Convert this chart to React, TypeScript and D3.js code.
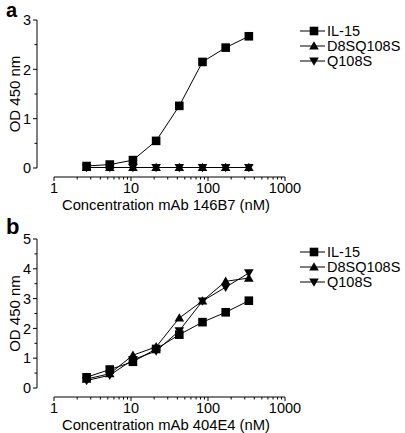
import React from "react";
import * as d3 from "d3";

const conc = [2.65, 5.3, 10.6, 21.2, 42.4, 84.8, 169.6, 339.2];
const seriesNames = ["IL-15", "D8SQ108S", "Q108S"];
const aIL15 = [0.04, 0.07, 0.16, 0.55, 1.26, 2.15, 2.44, 2.67];
const aD8SQ108S = [0.01, 0.01, 0.01, 0.01, 0.01, 0.01, 0.01, 0.01];
const aQ108S = [0.01, 0.01, 0.01, 0.01, 0.01, 0.01, 0.01, 0.01];
const bIL15 = [0.36, 0.62, 0.88, 1.31, 1.79, 2.21, 2.54, 2.93];
const bD8SQ108S = [0.3, 0.48, 1.1, 1.38, 2.35, 2.92, 3.58, 3.69];
const bQ108S = [0.25, 0.43, 0.95, 1.24, 1.92, 2.92, 3.38, 3.86];
const xTicks = [1, 10, 100, 1000];
const aYTicks = [0, 1, 2, 3];
const bYTicks = [0, 1, 2, 3, 4, 5];

const FONT = "'Liberation Sans', Arial, Helvetica, sans-serif";

function Marker({ kind, x, y }: { kind: number; x: number; y: number }) {
  if (kind === 0) return <rect x={x - 4.3} y={y - 4.3} width={8.6} height={8.6} fill="#000" />;
  const s = 4.8;
  if (kind === 1)
    return <path d={`M${x},${y - s}L${x + s},${y + s * 0.75}L${x - s},${y + s * 0.75}Z`} fill="#000" />;
  return <path d={`M${x},${y + s}L${x + s},${y - s * 0.75}L${x - s},${y - s * 0.75}Z`} fill="#000" />;
}

function Panel({
  letter, letterY, letterSize, top, bottom, ymax, yTicks, series, title, legendY,
}: {
  letter: string; letterY: number; letterSize: number; top: number; bottom: number; ymax: number;
  yTicks: number[]; series: number[][]; title: string; legendY: number;
}) {
  const x = d3.scaleLog().domain([1, 1000]).range([54, 285]);
  const y = d3.scaleLinear().domain([0, ymax]).range([bottom, top]);
  const axisY = bottom + 9;
  const yAxisX = 37;
  const minorY: number[] = [];
  for (let v = 0.5; v < ymax; v += 1) minorY.push(v);
  const minorX: number[] = [];
  for (const d of [1, 10, 100]) for (let k = 2; k <= 9; k++) minorX.push(d * k);
  const line = d3.line<number>().x((_, i) => x(conc[i])).y((v) => y(v));
  const order = [2, 1, 0];
  return (
    <g>
      <text x={6} y={letterY} fontFamily={FONT} fontWeight="bold" fontSize={letterSize}>{letter}</text>
      {/* y axis */}
      <line x1={yAxisX} x2={yAxisX} y1={top} y2={bottom} stroke="#000" strokeWidth={1} />
      {yTicks.map((t) => (
        <g key={t}>
          <line x1={yAxisX - 4} x2={yAxisX} y1={y(t)} y2={y(t)} stroke="#000" />
          <text x={yAxisX - 6} y={y(t)} dy="0.36em" textAnchor="end" fontFamily={FONT} fontSize={14.5}>{t}</text>
        </g>
      ))}
      {minorY.map((t) => (
        <line key={t} x1={yAxisX - 2.5} x2={yAxisX} y1={y(t)} y2={y(t)} stroke="#000" />
      ))}
      <text transform={`translate(19.5,${(top + bottom) / 2}) rotate(-90)`} textAnchor="middle" fontFamily={FONT} fontSize={15}>OD 450 nm</text>
      {/* x axis */}
      <line x1={54} x2={285} y1={axisY} y2={axisY} stroke="#000" />
      {xTicks.map((t) => (
        <g key={t}>
          <line x1={x(t)} x2={x(t)} y1={axisY} y2={axisY + 4} stroke="#000" />
          <text x={x(t)} y={axisY + 16} textAnchor="middle" fontFamily={FONT} fontSize={14.5}>{t}</text>
        </g>
      ))}
      {minorX.map((t) => (
        <line key={t} x1={x(t)} x2={x(t)} y1={axisY} y2={axisY + 2.5} stroke="#000" />
      ))}
      <text x={166} y={axisY + 33} textAnchor="middle" fontFamily={FONT} fontSize={14.8}>{title}</text>
      {/* series */}
      {order.map((si) => (
        <g key={si}>
          <path d={line(series[si]) || ""} fill="none" stroke="#000" strokeWidth={1} />
          {series[si].map((v, i) => (
            <Marker key={i} kind={si} x={x(conc[i])} y={y(v)} />
          ))}
        </g>
      ))}
      {/* legend */}
      {seriesNames.map((n, i) => (
        <g key={n}>
          <line x1={300} x2={325} y1={legendY + i * 15} y2={legendY + i * 15} stroke="#000" />
          <Marker kind={i} x={314} y={legendY + i * 15} />
          <text x={327} y={legendY + i * 15} dy="0.36em" fontFamily={FONT} fontSize={14.5}>{n}</text>
        </g>
      ))}
    </g>
  );
}

export default function App() {
  return (
    <div style={{ position: "absolute", left: 0, top: 0 }}>
      <svg width={405} height={433} style={{ display: "block", background: "#fff" }}>
        <Panel letter="a" letterY={17} letterSize={20} top={20} bottom={168} ymax={3} yTicks={aYTicks}
          series={[aIL15, aD8SQ108S, aQ108S]} title="Concentration mAb 146B7 (nM)" legendY={31} />
        <Panel letter="b" letterY={234} letterSize={22} top={239} bottom={388} ymax={5} yTicks={bYTicks}
          series={[bIL15, bD8SQ108S, bQ108S]} title="Concentration mAb 404E4 (nM)" legendY={252} />
      </svg>
    </div>
  );
}
